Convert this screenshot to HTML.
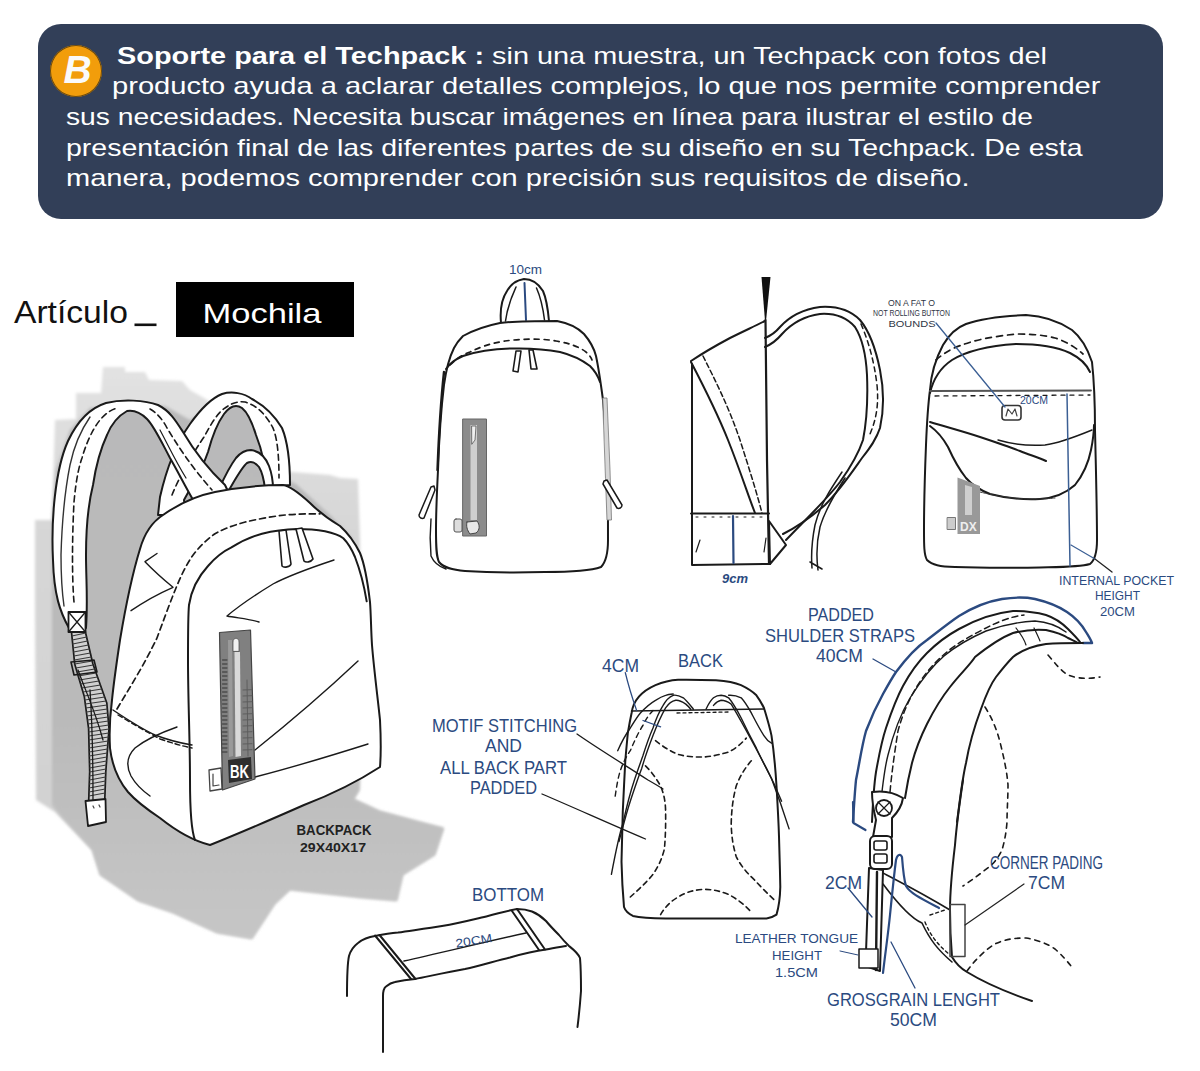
<!DOCTYPE html>
<html><head><meta charset="utf-8">
<style>
html,body{margin:0;padding:0;background:#fff;}
body{width:1200px;height:1071px;position:relative;overflow:hidden;font-family:"Liberation Sans",sans-serif;}
#box{position:absolute;left:38px;top:24px;width:1125px;height:195px;background:#323f58;border-radius:23px;}
.ln{position:absolute;color:#fff;font-size:24px;line-height:30px;white-space:pre;}
#badge{position:absolute;left:50px;top:45px;width:52px;height:52px;border-radius:50%;background:#f29d0b;box-shadow:0 0 0 1px #6b4a10 inset;}
#badge span{position:absolute;left:13.5px;top:2.5px;font-weight:bold;font-style:italic;font-size:39px;color:#fafafa;line-height:44px;}
#art{position:absolute;left:13px;top:293px;font-size:30px;line-height:36px;color:#111;white-space:pre;}
#moch{position:absolute;left:176px;top:282px;width:178px;height:55px;background:#000;}
#moch span{position:absolute;left:26px;top:10px;color:#fff;font-size:31px;line-height:36px;}
svg{position:absolute;left:0;top:0;}
</style></head>
<body>
<div id="box"></div>
<div id="badge"><span>B</span></div>
<div id="moch"></div>
<svg width="1200" height="1071" viewBox="0 0 1200 1071" fill="none" stroke="#1a1a1a" stroke-width="2" stroke-linecap="round" stroke-linejoin="round">

<defs>
<linearGradient id="shg" x1="0" y1="0" x2="0" y2="1">
<stop offset="0" stop-color="#e2e2e2"/><stop offset="0.3" stop-color="#d6d6d6"/><stop offset="1" stop-color="#d0d0d0"/>
</linearGradient>
<linearGradient id="shd" gradientUnits="userSpaceOnUse" x1="0" y1="400" x2="0" y2="940">
<stop offset="0" stop-color="#b9b9ba"/><stop offset="0.6" stop-color="#bababa"/><stop offset="1" stop-color="#c6c6c6"/>
</linearGradient>
<filter id="blr" x="-5%" y="-5%" width="110%" height="110%"><feGaussianBlur stdDeviation="1.6"/></filter>
</defs>

<!-- HEADER TEXT -->
<g font-family="Liberation Sans" font-size="24" fill="#fff" stroke="none">
<text x="117" y="64" textLength="930" lengthAdjust="spacingAndGlyphs"><tspan font-weight="bold">Soporte para el Techpack :</tspan> sin una muestra, un Techpack con fotos del</text>
<text x="112" y="94" textLength="988.5" lengthAdjust="spacingAndGlyphs">producto ayuda a aclarar detalles complejos, lo que nos permite comprender</text>
<text x="66" y="124.5" textLength="967" lengthAdjust="spacingAndGlyphs">sus necesidades. Necesita buscar imágenes en línea para ilustrar el estilo de</text>
<text x="66" y="155.5" textLength="1016.5" lengthAdjust="spacingAndGlyphs">presentación final de las diferentes partes de su diseño en su Techpack. De esta</text>
<text x="66" y="186" textLength="903.5" lengthAdjust="spacingAndGlyphs">manera, podemos comprender con precisión sus requisitos de diseño.</text>
</g>
<text x="14" y="323" font-family="Liberation Sans" font-size="31" fill="#111" stroke="none" textLength="114" lengthAdjust="spacingAndGlyphs">Artículo</text>
<rect x="134.5" y="323.5" width="22" height="2.6" fill="#111" stroke="none"/>
<text x="202.5" y="322.5" font-family="Liberation Sans" font-size="28" fill="#fff" stroke="none" textLength="119" lengthAdjust="spacingAndGlyphs">Mochila</text>
<!-- LEFT BACKPACK -->
<g id="lbp">
<path fill="url(#shg)" stroke="none" filter="url(#blr)" d="M36,800 L35,600 L35,520 L52,520 L55,420 L76,419 L76,393 L101,393 L103,367 L125,367 L125,372 L145,372 L149,380 L182,381 L190,390 L204,398 L215,405 L250,415 L262,440 L270,470 L292,472 L330,475 L340,478 L358,479 L360,540 L362,700 L360,790 L354,799 L380,811 L421,822 L444,828 L435,855 L403,875 L397,901 L362,898 L290,890 L275,904 L252,939 L217,933 L173,913 L138,901 L100,875 L92,850 L55,812 Z"/>
<path fill="url(#shd)" stroke="none" filter="url(#blr)" d="M52,805 L52,520 L56,470 L70,430 L90,408 L130,404 L165,406 L190,420 L210,408 L230,400 L250,405 L262,440 L270,472 L296,484 L330,515 L352,538 L359,560 L361,700 L359,790 L354,799 L380,811 L421,822 L444,828 L435,855 L403,875 L397,901 L362,898 L290,890 L275,904 L252,939 L217,933 L173,913 L138,901 L100,875 L92,850 L60,815 Z"/>
<!-- back strap -->
<path fill="#fff" d="M158,515 L160,497 C165,475 175,445 190,424 C200,410 212,398 222,394 C232,391 244,393 252,399 C265,406 276,418 282,428 C287,440 290,460 290,485 L267,487 C266,470 262,450 256,435 C252,422 247,412 242,408 C236,404 230,406 224,414 C216,425 212,437 208,452 C202,470 192,485 184,500 L186,515 Z"/>
<path fill="none" stroke-dasharray="6 4" stroke-width="1.6" d="M172,495 C180,475 195,450 204,437 C210,426 217,413 225,408 C232,403 238,401 245,402 C258,406 266,415 273,428 C278,440 279,460 279,478"/>
<!-- handle -->
<path fill="#fff" d="M219,489 C224,478 230,466 236,458 C241,452 246,450 251,450 C258,451 265,456 269,466 C272,474 273,482 273,489 L265,489 C264,480 262,472 259,467 C255,462 251,461 247,463 C242,467 236,478 229,490 Z"/>
<!-- front strap -->
<path fill="#fff" d="M69,628 C60,612 54,595 53,560 C51,520 55,470 68,441 C77,422 90,408 106,403 C122,399 145,400 158,405 C170,411 176,421 183,432 C193,449 206,467 225,485 L232,500 L200,512 L192,498 C184,484 177,470 170,458 C161,441 154,426 147,419 C140,412 133,410 127,411 C118,416 111,425 107,435 C100,450 96,465 93,485 C88,505 86,530 86,555 C86,580 88,600 86,628 Z"/>
<path fill="none" stroke-width="1.4" stroke="#333" d="M90,417 C81,430 74,446 70,465 C65,490 62,520 61,555 C61,578 62,592 64,606"/>
<path fill="none" stroke-dasharray="6 4" stroke-width="1.6" d="M74,602 C72,580 72,540 74,502 C76,480 79,466 82,458 C86,444 92,430 100,420 C106,413 112,409 118,408"/>
<path fill="none" stroke-dasharray="6 4" stroke-width="1.6" d="M150,409 C157,413 163,420 167,428 C178,446 190,465 212,490"/>
<path fill="none" stroke-width="1.2" d="M160,430 C168,445 176,462 186,478"/>
<!-- body -->
<path fill="#fff" d="M140,549 C144,535 152,522 163,515 C180,503 200,495 215,492 C235,488 255,485 283,485 C290,486 298,492 310,503 C320,513 330,520 340,526 C350,535 356,545 360,553 C365,565 368,585 370,602 C371,615 371,630 372,645 C374,670 378,700 380,720 C381,740 381,755 380,767 C360,780 330,795 304,805 C270,820 240,833 210,845 C190,840 175,830 160,818 C145,808 135,800 128,792 C118,780 112,765 110,748 C109,730 110,715 112,700 C114,680 117,660 120,640 C125,610 132,575 140,549 Z"/>
<path fill="none" d="M195,840 C191,830 190,810 190,780 C190,740 188,700 188,660 C188,630 188,615 189,605 C191,592 197,578 208,566 C215,558 222,552 231,547.7 C240,542 250,537 262,533.7 C275,530.5 287,529.3 297,529 C308,529 318,530 325,531.3 C333,533 339,535 343.3,538.3 C349,544 352,550 355,557 C360,570 364,585 366.7,601.3"/>
<path fill="none" stroke-dasharray="6 4" stroke-width="1.7" d="M117,709 C124,697 131,686 138,673.7 C145,662 151,650 156.7,638.7 C163,622 169,605 175.3,589.7 C180,578 185,567 191.7,557 C198,548 206,540 215,533.7 C225,528 235,525 245.3,522 C258,519 272,516.5 285,515 C297,514 309,513.8 320,513.8"/>
<path fill="none" stroke-width="1.5" d="M113,710 C125,718 140,728 155,735 C168,740 180,743 192,745"/>
<path fill="none" stroke-dasharray="5 3" stroke-width="1.4" d="M118,715 C130,722 145,731 160,739 C172,743 182,746 192,748"/>
<path fill="none" stroke-width="1.4" d="M177,727 C160,733 145,740 135,748 C127,756 126,766 131,776 C136,785 143,791 150,796"/>
<path fill="none" stroke-width="1.4" d="M157,553.5 L145,561.7 C153,570 163,579 173,587.3 C160,593 145,601 131,610.7"/>
<path fill="none" stroke-width="1.4" d="M334,560 C310,568 290,575 273,584 C255,595 240,605 227,616 C237,618 250,619 259,622"/>
<path fill="none" stroke-width="1.4" d="M255,750 C290,722 325,692 358,661 M255,777 C290,768 330,756 368,744"/>
<!-- zipper pulls top -->
<path fill="#fff" stroke-width="1.6" d="M279,531 L286,530 L291,564 C290,567 284,568 282,566 Z"/>
<path fill="#fff" stroke-width="1.6" d="M296,529 L302,528 L313,559 C311,562 306,563 304,561 Z"/>
<!-- zipper panel -->
<path fill="#808080" stroke="#444" stroke-width="1.2" d="M219.5,632.5 L250.5,630 L255,779 L222.5,790 Z"/>
<path fill="#9a9a9a" stroke="none" d="M228,640 L232,640 L233,756 L229,757 Z"/>
<path fill="none" stroke="#333" stroke-width="1" d="M222.5,660 L227,660 M222.5,664 L227,664 M222.5,668 L227,668 M222.5,672 L227,672 M222.5,676 L227,676 M222.5,680 L227,680 M222.5,684 L227,684 M222.5,688 L227,688 M222.5,692 L227,692 M222.5,696 L227,696 M222.5,700 L227,700 M222.5,704 L227,704 M222.5,708 L227,708 M222.5,712 L227,712 M222.5,716 L227,716 M222.5,720 L227,720 M222.5,724 L227,724 M222.5,728 L227,728 M222.5,732 L227,732 M222.5,736 L227,736 M222.5,740 L227,740 M222.5,744 L227,744 M222.5,748 L227,748 M222.5,752 L227,752"/>
<path fill="none" stroke="#5a5a5a" stroke-width="0.9" d="M243,690 L252,689.7 M243,696 L252,695.7 M243,702 L252,701.7 M243,708 L252,707.7 M243,714 L252,713.7 M243,720 L252,719.7 M243,726 L252,725.7 M243,732 L252,731.7 M243,738 L252,737.7 M243,744 L252,743.7 M243,750 L252,749.7 M247,680 L248,756"/>
<path fill="#d9d9d9" stroke="none" d="M234.5,652 L240,652 L241,756 L235.5,757 Z"/>
<path fill="#f2f2f2" stroke="#555" stroke-width="0.8" d="M233,651 L233,642 C233,637 239,637 239,642 L239,651 Z"/>
<path fill="#2e2e2e" stroke="none" d="M228,760 L251,757 L252,779 L229,783 Z"/>
<path fill="#fff" stroke="#444" stroke-width="1.3" d="M209,770 L221,768 L222,789 L210,791 Z"/>
<path fill="none" stroke="#444" stroke-width="1.2" d="M213,774 L213,786 L219,785"/>
<text x="230" y="778" font-family="Liberation Sans" font-size="19" font-weight="bold" fill="#fff" stroke="none" textLength="19" lengthAdjust="spacingAndGlyphs">BK</text>
<!-- hanging strap -->
<path fill="#d0d0d0" stroke-width="1.7" d="M71.5,632 L74.7,664 L84.3,696.5 L88.6,728.7 L89.7,771.6 L88.6,803.8 L104.7,801.7 L105.8,771.6 L109,728.7 L106.8,703 L92.9,664 L85.4,632 Z"/>
<path fill="none" stroke="#3a3a3a" stroke-width="1.1" d="M71.9,636.0 L85.6,633.0 M72.3,640.0 L86.6,637.0 M72.7,644.0 L87.5,641.0 M73.1,648.0 L88.4,645.0 M73.5,652.0 L89.4,649.0 M73.9,656.0 L90.3,653.0 M74.3,660.0 L91.3,657.0 M74.7,664.0 L92.2,661.0 M75.9,668.0 L93.3,665.0 M77.1,672.0 L94.7,669.0 M78.2,676.0 L96.1,673.0 M79.4,680.0 L97.5,677.0 M80.6,684.0 L99.0,681.0 M81.8,688.0 L100.4,685.0 M83.0,692.0 L101.8,689.0 M84.2,696.0 L103.2,693.0 M84.8,700.0 L104.7,697.0 M85.3,704.0 L106.1,701.0 M85.8,708.0 L107.0,705.0 M86.4,712.0 L107.3,709.0 M86.9,716.0 L107.7,713.0 M87.4,720.0 L108.0,717.0 M88.0,724.0 L108.3,721.0 M88.5,728.0 L108.7,725.0 M88.7,732.0 L109.0,729.0 M88.8,736.0 L108.7,733.0 M88.9,740.0 L108.4,737.0 M89.0,744.0 L108.1,741.0 M89.1,748.0 L107.8,745.0 M89.2,752.0 L107.5,749.0 M89.3,756.0 L107.2,753.0 M89.4,760.0 L106.9,757.0 M89.5,764.0 L106.6,761.0 M89.6,768.0 L106.3,765.0 M89.7,772.0 L106.0,769.0 M89.5,776.0 L105.7,773.0 M89.4,780.0 L105.6,777.0 M89.3,784.0 L105.5,781.0 M89.1,788.0 L105.3,785.0 M89.0,792.0 L105.2,789.0 M88.9,796.0 L105.0,793.0"/>
<path fill="none" stroke-width="1.3" d="M78,670 C85,690 95,710 103,740 M90,690 C92,720 93,760 93,800"/>
<rect x="68.5" y="612" width="17" height="20" fill="#fff" stroke-width="1.8"/>
<path fill="none" stroke-width="1.3" d="M68.5,612 L85.5,632 M85.5,612 L68.5,632"/>
<path fill="none" stroke-width="1.6" d="M71,662 L94,660 L97,672 L74,675 Z"/>
<path fill="#fff" stroke-width="1.8" d="M85.5,801 L105.5,799 L106,822 L88,826 Z"/>
<path fill="none" stroke="#444" stroke-width="1.2" d="M93,806 L94,808 M99,805 L100,807"/>
<text x="296.5" y="835" font-family="Liberation Sans" font-size="14" font-weight="bold" fill="#222" stroke="none" textLength="75" lengthAdjust="spacingAndGlyphs">BACKPACK</text>
<text x="300" y="851.5" font-family="Liberation Sans" font-size="12.5" font-weight="bold" fill="#222" stroke="none" textLength="66" lengthAdjust="spacingAndGlyphs">29X40X17</text>
</g>

<!-- FRONT VIEW -->
<g id="fv">
<text x="509" y="273.5" font-family="Liberation Sans" font-size="12" fill="#2b4a80" stroke="none" textLength="33" lengthAdjust="spacingAndGlyphs">10cm</text>
<path fill="none" d="M501,323 C500,312 501,300 507,291 C511,284 517,280 524,279 C531,279 538,283 543,291 C547,300 548,310 549,321"/>
<path fill="none" stroke="#2b4a80" stroke-width="2" d="M524.5,283 L526,320"/>
<path fill="none" stroke-width="1.5" d="M505.5,321 C507,310 510,300 516,287 M544.5,320 C543,308 541,298 536.5,288"/>
<path fill="#fff" d="M463,336 C472,331 485,326 500,323 C515,321 540,321 557,321 C568,323 578,328 584,334 C590,341 594,348 596,356 C599,370 601,385 603,400 C605,420 606,440 607,460 C608,480 608,510 608,540 C608,552 606,562 601,567 C590,571 570,572 545,572 C510,573 480,572 465,571 C452,570 444,568 439,562 C436,556 436,545 436,530 C436,510 437,490 438,470 C439,440 441,410 444,385 C446,370 449,358 454,348 C457,342 460,339 463,336 Z"/>
<path fill="none" d="M446,369 C450,363 456,359 463,356 C475,352 490,349 511,348.5 C530,348 545,349 560,352 C572,355 582,360 590,366 C595,371 598,376 600,382"/>
<path fill="none" stroke-dasharray="5 5" stroke-width="1.7" d="M450,365 C456,359 462,355 470,352 C480,347 492,343 505,341 C520,339 540,338 556,341 C568,343 578,346 586,352 C589,355 591,357 592,360"/>
<path fill="#fff" stroke-width="1.6" d="M516,351 L521,351 L518,372 L513,371 Z"/>
<path fill="#fff" stroke-width="1.6" d="M529,350 L533,350 L537,369 L531,369 Z"/>
<path fill="none" stroke-width="1.4" d="M431,519 C430,530 430,545 431,556 C434,563 440,567 446,569"/>
<path fill="#fff" stroke-width="1.5" d="M434,486 L431,487 L419,515 C419,518 422,519 424,518 L435,490 Z"/>
<path fill="#d6d6d6" stroke="#777" stroke-width="0.8" d="M603,398 L607,398 L610,470 L611.5,520 L607,520 L605.5,479 Z"/>
<path fill="none" stroke-width="2.4" d="M444,372 C441,400 439,430 437.5,470"/>
<path fill="#fff" stroke-width="1.5" d="M604,481 L607,480 L622,505 C622,508 619,509 617,508 L603,484 Z"/>
<path fill="#8c8c8c" stroke="#666" stroke-width="1" d="M463,419 L486.5,419 L486.5,536 L463,536 Z"/>
<path fill="#cfcfcf" stroke="none" d="M470.5,425 L477,425 L477,520 L470.5,520 Z"/>
<path fill="#f0f0f0" stroke="#555" stroke-width="0.8" d="M472,426 L476,426 L475,440 L472,444 Z"/>
<rect x="454" y="519" width="8" height="13" rx="2" fill="#ddd" stroke="#555" stroke-width="1"/>
<path fill="#e8e8e8" stroke="#444" stroke-width="1" d="M467,522 L477,521 C480,525 480,530 476,533 L470,534 C467,530 466,526 467,522 Z"/>
</g>
<!-- SIDE VIEW -->
<g id="sv">
<path fill="#111" stroke="none" d="M761.5,277 L770.5,277 L766,321 L765,321 Z"/>
<path fill="none" d="M691,361 C700,355 715,346 730,338 C742,332 755,326 765,321"/>
<path fill="none" stroke-width="2.2" d="M765.5,320 L767,460 L769,564"/>
<path fill="none" d="M692,364 L692,565 L770,564 M691,513.5 L769,513.5"/>
<path fill="none" d="M691,362 C703,385 716,410 728,440 C740,470 748,495 755,513"/>
<path fill="none" stroke-dasharray="5 3" stroke-width="1.5" d="M703,356 C715,380 728,405 740,440 C748,465 756,490 762,513"/>
<path fill="none" stroke="#2b4a80" stroke-width="2.2" d="M733,516 L733.5,563"/>
<path fill="none" stroke-width="1" stroke-dasharray="2 6" d="M696,517 L765,517"/>
<path fill="none" stroke-width="1.2" d="M696,552 L700,540 M764,552 L766,538"/>
<path fill="#fff" d="M769,521 L786,545 L770,564 Z"/>
<path fill="none" d="M765,338 C770,336 775,333 780,327 C790,316 805,309 820,307 C835,306 850,310 860,320 C870,332 876,350 880,370 C884,390 884,410 880,428 C876,440 870,448 862,458 C850,475 840,490 825,505 C810,518 795,528 783,534"/>
<path fill="none" d="M765,347 C772,344 777,340 782,334 C792,323 805,316 820,314 C835,313 847,318 855,327 C862,338 866,355 867,375 C868,400 867,420 863,440 C858,455 850,468 840,482 C828,498 810,515 786,540"/>
<path fill="none" stroke-dasharray="5 4" stroke-width="1.5" d="M861,324 C868,340 874,360 877,385 C879,405 876,420 870,434"/>
<path fill="none" stroke-width="1.5" d="M812,568 C811,555 812,540 815,525 C820,505 830,490 842,472 M818,570 C816,555 817,540 820,527 C825,510 834,495 845,478 M810,562 L822,569"/>
<text x="722" y="583" font-family="Liberation Sans" font-size="12" font-weight="bold" font-style="italic" fill="#2b4a80" stroke="none" textLength="26" lengthAdjust="spacingAndGlyphs">9cm</text>
</g>

<!-- BACK VIEW (top right) -->
<g id="rv">
<path fill="#fff" d="M930,390 C931,375 935,360 943,345 C950,333 958,327 966,324 C980,319 1000,316 1026,315 C1045,316 1060,322 1072,330 C1082,338 1088,350 1092,362 C1094,380 1095,400 1095,430 C1096,470 1097,510 1097,540 C1097,552 1095,560 1090,564 C1080,567 1060,567 1040,567.5 C1010,568 980,568 955,567 C940,566.5 932,565 927,560 C924,555 924,545 924,530 C924,500 925,470 926,445 C927,420 928,405 930,390 Z"/>
<path fill="none" d="M930,393 C933,380 940,368 952,360 C965,352 985,346 1016,344 C1035,344 1055,346 1070,353 C1080,358 1086,363 1090,372"/>
<path fill="none" stroke-dasharray="6 5" stroke-width="1.7" d="M936,360 C945,352 955,347 962,345 C975,340 990,337 1016,334 C1030,334 1045,335 1055,338 C1065,341 1075,347 1083,354"/>
<path fill="none" stroke="#555" stroke-width="1.8" d="M930,391 L1091,390.5"/>
<path fill="none" stroke-dasharray="4 5" stroke-width="1.3" d="M935,396 L1090,395"/>
<path fill="none" d="M930,422 C950,428 965,432 980,437 C995,442 1010,447 1020,451 C1030,455 1040,458 1046,461"/>
<path fill="none" d="M930,426 C937,431 943,438 948,447 C953,458 958,468 966,478 C972,485 980,490 990,494 C1005,498 1020,500 1040,499 C1055,498 1065,494 1075,485 C1083,475 1088,465 1091,450 C1093,440 1094,432 1094,425"/>
<path fill="none" stroke-width="1.4" d="M998,440 C1015,445 1030,446 1045,445 C1060,443 1075,437 1092,430"/>
<path fill="none" stroke="#333" stroke-width="1" stroke-dasharray="2 1" d="M980,492 C1000,497 1025,501 1055,498"/>
<rect x="1002" y="405.5" width="19" height="14.5" rx="3" fill="#fff" stroke="#333" stroke-width="1.6"/>
<path fill="none" stroke="#444" stroke-width="1.2" d="M1006,416 L1008,409 L1012,414 L1015,409 L1017,416"/>
<path fill="none" stroke="#3b5f94" stroke-width="1.3" d="M936,323 L1005,407"/>
<path fill="none" stroke="#3b5f94" stroke-width="1.5" d="M1067,394 L1070,566"/>
<path fill="none" stroke="#3b5f94" stroke-width="1.2" d="M1071,545 L1095,559"/>
<path fill="none" stroke="#222" stroke-width="1.3" d="M1095,559 L1112,572"/>
<text x="1020" y="404" font-family="Liberation Sans" font-size="11" fill="#2b4a80" stroke="none" textLength="28" lengthAdjust="spacingAndGlyphs">20CM</text>
<path fill="#999" stroke="none" d="M957.5,477.5 L980,486 L980,534 L957.5,534 Z"/>
<path fill="#cfcfcf" stroke="none" d="M965,485 L972,487 L972,515 L965,515 Z"/>
<rect x="947.5" y="517.5" width="8" height="12" fill="#ccc" stroke="#777" stroke-width="1"/>
<text x="960" y="531" font-family="Liberation Sans" font-size="12" font-weight="bold" fill="#eee" stroke="none">DX</text>
<g font-family="Liberation Sans" font-size="9" fill="#2f3544" stroke="none">
<text x="888" y="306" textLength="47" lengthAdjust="spacingAndGlyphs">ON A FAT O</text>
<text x="873" y="316" textLength="77" lengthAdjust="spacingAndGlyphs">NOT ROLLING BUTTON</text>
<text x="888.5" y="327" textLength="47" lengthAdjust="spacingAndGlyphs">BOUNDS</text>
</g>
<g font-family="Liberation Sans" font-size="12" fill="#2b4a80" stroke="none">
<text x="1059" y="585" textLength="115" lengthAdjust="spacingAndGlyphs">INTERNAL POCKET</text>
<text x="1095" y="600" textLength="45" lengthAdjust="spacingAndGlyphs">HEIGHT</text>
<text x="1100" y="616" textLength="35" lengthAdjust="spacingAndGlyphs">20CM</text>
</g>
</g>

<!-- BACK PANEL VIEW (center) -->
<g id="bk">
<path fill="#fff" d="M631.6,713 C633,702 640,692 655.5,685.2 C665,681 672,680 678,679.7 C695,679.5 705,679.8 716,680.2 C728,681 735,682.5 741,685.2 C749,689 753,692 756.4,695.3 C760,700 762,704 764,708 C767,718 769.5,726 771.5,735.6 C774,752 775.5,770 776.5,786 C777.5,803 778.5,820 779,836.5 C779.5,855 780,870 780.3,887 C780,900 778.5,908 776.5,914.6 C773,917 770,918 766.5,918.4 C735,918.6 700,918.6 665.6,918.4 C650,918.2 640,917.5 632.9,915.9 C627,913 625,910 624,907 C622.5,890 621.8,875 621.5,861.7 C621.8,845 622.3,828 622.8,811 C623.5,795 624.5,777 625.3,760.8 C626,752 627,742 627.8,733.1 C629,726 630.3,719 631.6,713 Z"/>
<path fill="none" stroke-width="1.6" d="M631.6,711 L764,709"/>
<path fill="none" stroke-width="1.3" stroke-dasharray="3 3" d="M677,713 L729,712"/>
<path fill="none" stroke-width="1.4" d="M611.4,874.3 C616,850 619,835 622.8,823.9 C627,805 630,793 634.1,781 C637,772 640,764 642.9,755.8 C646,746 649,737 653,728 C656,719 659,712 663.1,705.4 C666,700 669,697 673.2,695.3 C677,694.5 680,696 683.3,697.8 C687,701 690,705 693.4,709.2"/>
<path fill="none" stroke-width="1.4" d="M619,841.5 C623,827 626,814 630.3,801.2 C634,790 637.5,779 641.7,768.4 C645,757 649,746 653,735.6 C657,725 661,716 665.6,707.9 C669,703 672,701 675.7,700.3 C679,700 682,701.5 685.8,704.1 C688,706 689.5,707.5 690.8,709.2"/>
<path fill="none" stroke-width="1.4" d="M617.7,750.7 C622,741 626,734 630.3,728 C634,722 637,717 640.4,713 C645,708 650,703.5 655.5,700.3 C659,698 662,696.3 665.6,695.3 C668,694.5 671,694.2 673.2,694"/>
<path fill="none" stroke-width="1.4" stroke-dasharray="5 4" d="M615.2,796.1 C616.5,787 618,778 620.2,770.9 C623,763 626.5,756 630.3,750.7 C634,742 638,733 642.9,725.5 C646,719 649.5,714 653,710.4"/>
<path fill="none" stroke-width="1.4" d="M706,709.2 C708.5,704 711,700 713.5,697.8 C716,696 718.5,695.3 721.1,695.3 C724,695.5 726.5,696.5 728.6,697.8 C733,703 737,710 741.2,718 C746,728 751,738 756.4,748.2 C761,758 766,768 771.5,778.5 C777,793 783,810 789.1,828.9"/>
<path fill="none" stroke-width="1.4" d="M713.5,705.4 C716,702.5 718.5,700.8 721.1,700.3 C725,700.3 728,701.8 731.2,704.1 C736,712 741,721 746.3,730.6 C753,743 760,756 766.5,768.4 C772,779 777,790 781.6,801.2"/>
<path fill="none" stroke-width="1.4" d="M728.6,695.3 C733,695 737,695.8 741.2,697.8 C745,702 748,707 751.3,712.9 C755,720 759,728 763.9,735.6 C766,739 768.5,741.5 771.5,743.2"/>
<path fill="none" stroke-dasharray="5 4" stroke-width="1.6" d="M655.5,740.7 C662,746 670,751 678.2,754.5 C686,756.5 695,757.3 703.4,757 C712,756.5 720,754.5 728.6,752 C735,749 741,744 746.3,738.1"/>
<path fill="none" stroke-dasharray="5 4" stroke-width="1.6" d="M645.5,765.9 C651,771 656,778 660.6,786 C664,794 665.5,802 665.6,811.3 C665.8,824 665.5,837 664.4,849 C662,859 658,867 653,874.3 C646,883 638,890 630.3,897"/>
<path fill="none" stroke-dasharray="5 4" stroke-width="1.6" d="M751.3,760.8 C745,768 740,776 736.2,786 C733,798 731.5,810 731.2,823.9 C731.5,836 733,846 736.2,856.6 C741,866 747,873 753.9,879.3 C761,887 769,895 776.5,902"/>
<path fill="none" stroke-dasharray="5 4" stroke-width="1.6" d="M660.6,914.6 C665,907 671,901 678.2,897 C686,892 694,890 703.4,889.4 C712,889.3 720,891 728.6,894.4 C737,899 745,905 751.3,912.1"/>
<path fill="none" stroke-width="1.3" d="M577,734 C600,750 625,765 648,780 C655,784 660,787 663,789"/>
<path fill="none" stroke-width="1.3" d="M542,794 C575,808 610,824 645.5,839"/>
<path fill="none" stroke="#2b4a80" stroke-width="1.3" d="M625.3,672.6 C629,688 633,700 636.6,710.4 M643,720.5 L660.6,726.8"/>
</g>
<!-- BOTTOM VIEW -->
<g id="bv">
<path fill="none" d="M347,996 C347,980 347,965 349,956 C351,949 354,946 358,943 C363,939 368,937 375,936 C385,934 392,933 398,932.5 C415,930 430,928 442,926 C460,923 475,919 488,916 C500,913 510,910 517,909 C523,909 528,910 532,911.5 C538,914 542,917 546,921 C551,927 555,931 559,935 C563,940 566,943 569,946 C574,950 578,953 580,958 C581,970 581,980 581,991 C580,1005 579,1015 577.5,1027"/>
<path fill="none" d="M383,1052 L383,996 C383,991 384,988 386,986.5 C389,984 392,982.5 395,982 C401,980.5 408,979.5 415,979 C430,976 448,972 465,969 C480,966 495,961 510,957.5 C522,954 534,951 546,949.5 C553,948 560,947 566,946"/>
<path fill="none" d="M375,935.5 L411,979 M379.5,935 L415.5,979"/>
<path fill="none" d="M512,911 L539,950 M517,909 L545,949.5"/>
<path fill="none" stroke-width="1.5" d="M404,961 C440,953 485,942 526,933"/>
<text x="455" y="945" font-family="Liberation Sans" font-size="12" fill="#2b4a80" stroke="none" textLength="37" lengthAdjust="spacingAndGlyphs" transform="rotate(-9 473 939)">20CM</text>
</g>
<!-- SHOULDER STRAP DETAIL -->
<g id="ss">
<path fill="none" stroke="#2b4a80" stroke-width="2.4" d="M853,822 C854,805 855,790 856,780 C860,760 862,745 866,731 C872,715 878,703 883,694 C888,685 892,678 896,672 C905,660 915,648 927,640 C940,630 950,622 959,616 C975,606 990,601 1002,599 C1015,597 1025,597 1035,599 C1048,602 1058,606 1067,612 C1076,618 1082,625 1086,632 C1089,637 1091,640 1092,643 L1083,643"/>
<path fill="none" d="M872,822 C873,800 874,785 876,772 C879,755 882,740 886,728 C892,710 897,697 903,686 C910,673 918,662 927,653 C937,643 948,635 959,629 C975,620 995,613 1013,611 C1025,611 1035,612 1046,615 C1055,618 1062,623 1068,629 C1073,634 1077,638 1080,642"/>
<path fill="none" stroke-width="1.4" d="M880,810 C882,790 884,770 888,755 C893,735 900,715 910,698 C920,682 930,668 944,656 C956,646 970,638 986,631 C1000,626 1015,622 1035,621 C1048,622 1058,626 1066,632"/>
<path fill="none" stroke-dasharray="6 4" stroke-width="1.5" d="M890,792 C892,770 895,750 898,731 C903,712 910,698 916,688 C925,673 935,662 948,651 C962,640 978,632 992,625 C1005,619 1015,616 1024,615"/>
<path fill="none" d="M905,798 C907,785 909,775 912,763 C916,748 920,738 927,724 C935,708 942,697 950,687 C960,674 970,665 975,657 C990,645 1000,638 1013,633 C1025,630 1035,629 1046,630 C1055,632 1062,634 1068,638 C1072,640 1075,641 1078,643"/>
<path fill="none" d="M957,822 C960,800 962,780 966,763 C970,740 975,725 981,709 C986,695 990,685 996,677 C1003,668 1008,662 1013,657 C1022,650 1032,646 1046,644 C1058,643 1068,643 1083,643"/>
<path fill="none" stroke-width="1.2" d="M1016,628 C1020,633 1024,638 1026,645 M1034,628 C1036,632 1038,636 1040,641"/>
<path fill="none" stroke-dasharray="5 5" stroke-width="1.6" d="M985,707 C992,718 997,730 1000,742 C1004,758 1007,772 1008,785 C1008,798 1007,810 1007,822 C1006,835 1004,843 1002,850 C998,858 994,863 989,867 C980,874 972,880 963,886"/>
<path fill="none" stroke-dasharray="5 5" stroke-width="1.6" d="M1048,655 C1055,663 1060,670 1068,675 C1078,679 1090,679 1100,677"/>
<path fill="none" stroke-dasharray="5 5" stroke-width="1.6" d="M967,971 C975,960 985,950 995,944 C1005,939 1015,938 1026,938 C1038,940 1048,944 1055,949 C1062,955 1067,961 1071,966"/>
<path fill="none" d="M963,780 C960,800 957,820 955,845 C952,870 950,890 950,910 C950,930 951,945 952,957 C955,962 960,968 967,972 C980,980 1000,990 1032,1001"/>
<path fill="none" stroke-width="1.6" d="M883,873 C900,882 920,892 950,910 M883,884 C895,900 910,918 922,923 C930,940 938,950 952,962"/>
<path fill="none" stroke-width="1.4" stroke-dasharray="3 3" d="M925,922 C930,935 938,945 950,955 M930,915 L945,910"/>
<rect x="950" y="904.5" width="15" height="52" fill="none" stroke="#444" stroke-width="1.5"/>
<path fill="none" stroke="#2b4a80" stroke-width="2.2" d="M853,802 L853.5,823 L865.5,830"/>
<path fill="none" stroke="#2b4a80" stroke-width="2.2" d="M883,973 C885,955 888,935 890,915 C892,895 894,875 896,860 C897,855 900,853 902,857 C903,870 904,880 906,886 C910,893 920,898 939,908"/>
<path fill="#fff" d="M869,868 L883,870 L880,971 L865.5,966 Z"/>
<path fill="none" stroke-width="2.4" d="M877,872 L876,970"/>
<path fill="#fff" d="M872,792 C872,800 874,812 876,820 L873,837 L892,837 L892,818 C898,812 902,805 903,798 C895,793 885,790 872,792 Z"/>
<circle cx="884" cy="808" r="8" fill="#fff" stroke-width="1.8"/>
<path fill="none" stroke-width="1.2" d="M878,802 L890,814 M890,802 L878,814"/>
<rect x="870" y="836" width="22" height="33" rx="5" fill="#fff" stroke-width="2"/>
<rect x="874" y="841" width="13" height="9" rx="2" fill="#fff" stroke-width="1.6"/>
<rect x="874" y="854" width="13" height="9" rx="2" fill="#fff" stroke-width="1.6"/>
<rect x="859" y="949" width="19" height="19" fill="#fff" stroke-width="1.5"/>
<path fill="none" stroke="#2b4a80" stroke-width="1.3" d="M848,888 L872,917 M891,942 L915,988"/>
<path fill="none" stroke="#2b4a80" stroke-width="1.3" d="M873,659 L896,672"/>
<path fill="none" stroke="#222" stroke-width="1.2" d="M965,925 L1024,884"/>
<path fill="none" stroke="#2b4a80" stroke-width="1" d="M840,951 L858,955"/>
</g>
<!-- LABELS -->
<g font-family="Liberation Sans" fill="#2b4a80" stroke="none">
<text x="602" y="672.0" font-size="19.0" textLength="37" lengthAdjust="spacingAndGlyphs">4CM</text>
<text x="678" y="667.0" font-size="19.0" textLength="45" lengthAdjust="spacingAndGlyphs">BACK</text>
<text x="432" y="732.0" font-size="19.0" textLength="145" lengthAdjust="spacingAndGlyphs">MOTIF STITCHING</text>
<text x="485" y="752.0" font-size="19.0" textLength="37" lengthAdjust="spacingAndGlyphs">AND</text>
<text x="440" y="773.5" font-size="19.0" textLength="127" lengthAdjust="spacingAndGlyphs">ALL BACK PART</text>
<text x="470" y="793.5" font-size="19.0" textLength="67" lengthAdjust="spacingAndGlyphs">PADDED</text>
<text x="472" y="900.5" font-size="19.0" textLength="72" lengthAdjust="spacingAndGlyphs">BOTTOM</text>
<text x="808" y="620.5" font-size="18.0" textLength="66" lengthAdjust="spacingAndGlyphs">PADDED</text>
<text x="765" y="641.5" font-size="18.0" textLength="150" lengthAdjust="spacingAndGlyphs">SHULDER STRAPS</text>
<text x="816" y="661.5" font-size="18.0" textLength="47" lengthAdjust="spacingAndGlyphs">40CM</text>
<text x="990" y="868.5" font-size="18.0" textLength="113" lengthAdjust="spacingAndGlyphs">CORNER PADING</text>
<text x="1028" y="888.5" font-size="18.0" textLength="37" lengthAdjust="spacingAndGlyphs">7CM</text>
<text x="825" y="888.5" font-size="18.0" textLength="37" lengthAdjust="spacingAndGlyphs">2CM</text>
<text x="735" y="943" font-size="13" textLength="123" lengthAdjust="spacingAndGlyphs">LEATHER TONGUE</text>
<text x="772" y="960" font-size="13" textLength="50" lengthAdjust="spacingAndGlyphs">HEIGHT</text>
<text x="775" y="977" font-size="13" textLength="43" lengthAdjust="spacingAndGlyphs">1.5CM</text>
<text x="827" y="1005.5" font-size="19.0" textLength="173" lengthAdjust="spacingAndGlyphs">GROSGRAIN LENGHT</text>
<text x="890" y="1025.5" font-size="19.0" textLength="47" lengthAdjust="spacingAndGlyphs">50CM</text>
</g>
</svg>
</body></html>
